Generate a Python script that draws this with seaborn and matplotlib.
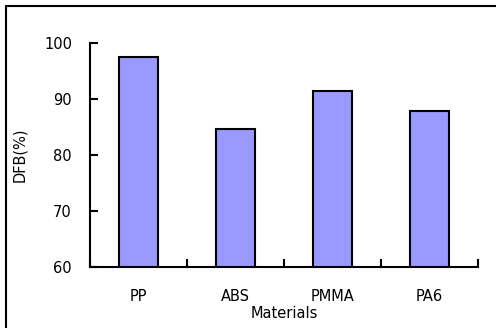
import matplotlib
matplotlib.use("Agg")
import matplotlib.pyplot as plt
import seaborn as sns
import pandas as pd
from matplotlib.lines import Line2D

# chart data
materials = ["PP", "ABS", "PMMA", "PA6"]
dfb = [97.5, 84.6, 91.5, 87.8]
y_ticks = [60, 70, 80, 90, 100]

df = pd.DataFrame({"Materials": materials, "DFB": dfb})

sns.set_style("white")
plt.rcParams["font.family"] = ["DejaVu Sans"]
plt.rcParams["ytick.direction"] = "in"
plt.rcParams["xtick.direction"] = "in"
plt.rcParams["text.color"] = "black"
plt.rcParams["axes.labelcolor"] = "black"
plt.rcParams["xtick.color"] = "black"
plt.rcParams["ytick.color"] = "black"

fig = plt.figure(figsize=(4.96, 3.28), dpi=100)
fig.patch.set_linewidth(0)
fig.patch.set_edgecolor("white")
ax = fig.add_axes([90 / 496, 1 - 267 / 328, 388 / 496, 224 / 328])

sns.barplot(data=df, x="Materials", y="DFB", color="#9999FF", saturation=1,
            width=0.41, edgecolor="black", linewidth=1.5, ax=ax)

ax.set_ylim(60, 100)
ax.set_xlim(-0.5, len(materials) - 0.5)
ax.set_yticks(y_ticks)
ax.set_xticks(range(len(materials)))
ax.set_xticks([i - 0.5 for i in range(len(materials) + 1)], minor=True)

# ticks point into the plot area
ax.tick_params(axis="y", direction="in", length=6, width=1.5, pad=13,
               labelsize=10.5, left=True)
ax.tick_params(axis="x", which="major", length=0, pad=16, labelsize=10.5)
ax.tick_params(axis="x", which="minor", direction="in", length=6, width=1.5,
               bottom=True)

for side in ["top", "right"]:
    ax.spines[side].set_visible(False)
for side in ["left", "bottom"]:
    ax.spines[side].set_color("black")
    ax.spines[side].set_linewidth(1.5)

ax.set_xlabel("Materials", fontsize=10.5, labelpad=1)
ax.set_ylabel("DFB(%)", fontsize=10.5, labelpad=12)

# outer frame: only left and top edges are visible in the original
x0 = 6 / 496
y0 = 1 - 6 / 328
fig.add_artist(Line2D([x0, x0], [0, y0], transform=fig.transFigure,
                      color="black", linewidth=1.5))
fig.add_artist(Line2D([x0, 1], [y0, y0], transform=fig.transFigure,
                      color="black", linewidth=1.5))

fig.savefig("out.png", dpi=100)
